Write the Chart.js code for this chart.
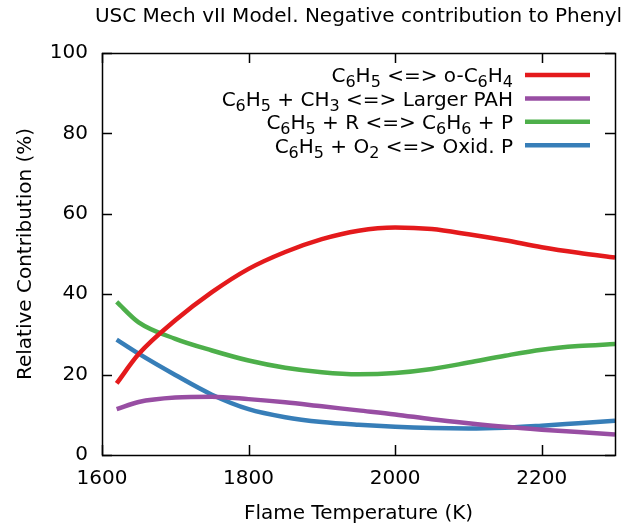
<!DOCTYPE html>
<html>
<head>
<meta charset="utf-8">
<title>Phenyl consumption pathways</title>
<script src="https://cdn.jsdelivr.net/npm/chart.js@4.4.1/dist/chart.umd.min.js"></script>
<style>
  html, body { margin: 0; padding: 0; background: #fff; }
  #wrap { width: 627px; height: 526px; }
</style>
</head>
<body>
<div id="wrap"><canvas id="chart"></canvas></div>
<script>
// Flame temperature (K) and relative contribution (%) of each reaction class
const temperatures = [1620, 1650, 1700, 1750, 1800, 1850, 1900, 1950, 2000, 2050, 2100, 2150, 2200, 2250, 2300];
const benzyneValues = [17.8, 25.1, 33.5, 40.5, 46.3, 50.5, 53.7, 55.8, 56.6, 56.2, 54.9, 53.4, 51.7, 50.3, 49.1];
const largerPahValues = [11.4, 13.2, 14.3, 14.5, 13.9, 13.1, 12.1, 11.1, 10.1, 8.9, 7.9, 7.0, 6.3, 5.7, 5.1];
const benzeneValues = [38.1, 33.0, 28.9, 26.0, 23.5, 21.7, 20.6, 20.1, 20.4, 21.4, 23.0, 24.7, 26.2, 27.1, 27.6];
const oxidationValues = [28.7, 25.2, 19.9, 15.0, 11.4, 9.4, 8.2, 7.5, 7.0, 6.7, 6.6, 6.8, 7.3, 7.9, 8.5];

// "_x" marks a single subscript character
const seriesLabels = [
  'C_6H_5 <=> o-C_6H_4',
  'C_6H_5 + CH_3 <=> Larger PAH',
  'C_6H_5 + R <=> C_6H_6 + P',
  'C_6H_5 + O_2 <=> Oxid. P'
];
const seriesColors = ['#e41a1c', '#984ea3', '#4daf4a', '#377eb8'];
const xTicks = [1600, 1800, 2000, 2200];
const yTicks = [0, 20, 40, 60, 80, 100];

const chartTitle = 'USC Mech vII Model. Negative contribution to Phenyl';
const FONT = '"DejaVu Sans", sans-serif';

function toPoints(values) {
  return values.map((v, i) => ({ x: temperatures[i], y: v }));
}

// Split a label into plain / subscript runs
function parseRuns(label) {
  const runs = [];
  let buf = '';
  for (let i = 0; i < label.length; i++) {
    if (label[i] === '_' && i + 1 < label.length) {
      if (buf) runs.push({ text: buf, sub: false });
      buf = '';
      runs.push({ text: label[i + 1], sub: true });
      i++;
    } else {
      buf += label[i];
    }
  }
  if (buf) runs.push({ text: buf, sub: false });
  return runs;
}

// Title centred over the plot box (not the whole canvas)
const boxTitle = {
  id: 'boxTitle',
  afterDraw(chart) {
    const { ctx, chartArea: a } = chart;
    ctx.save();
    ctx.fillStyle = '#000';
    ctx.font = '20px ' + FONT;
    ctx.textAlign = 'center';
    ctx.textBaseline = 'middle';
    ctx.fillText(chartTitle, (a.left + a.right) / 2, 17);
    ctx.restore();
  }
};

// Closed frame with inward tick marks on all four sides
const frameTicks = {
  id: 'frameTicks',
  afterDatasetsDraw(chart) {
    const { ctx, chartArea: a, scales } = chart;
    const len = 10;
    ctx.save();
    ctx.strokeStyle = '#000';
    ctx.lineWidth = 1.5;
    ctx.beginPath();
    xTicks.forEach(t => {
      const px = Math.round(scales.x.getPixelForValue(t)) + 0.5;
      ctx.moveTo(px, a.bottom); ctx.lineTo(px, a.bottom - len);
      ctx.moveTo(px, a.top); ctx.lineTo(px, a.top + len);
    });
    yTicks.forEach(t => {
      const py = Math.round(scales.y.getPixelForValue(t)) + 0.5;
      ctx.moveTo(a.left, py); ctx.lineTo(a.left + len, py);
      ctx.moveTo(a.right, py); ctx.lineTo(a.right - len, py);
    });
    ctx.stroke();
    ctx.strokeRect(Math.round(a.left) + 0.5, Math.round(a.top) + 0.5,
      Math.round(a.right - a.left), Math.round(a.bottom - a.top));
    ctx.restore();
  }
};

// Legend in the top right corner: right-aligned text, line sample after it
const keyLegend = {
  id: 'keyLegend',
  afterDatasetsDraw(chart) {
    const { ctx, chartArea: a } = chart;
    const size = 20, subSize = 16, subShift = 5;
    const sampleEnd = a.right - 25, sampleStart = sampleEnd - 65, textEnd = sampleStart - 12;
    ctx.save();
    ctx.fillStyle = '#000';
    ctx.textBaseline = 'alphabetic';
    ctx.textAlign = 'left';
    chart.data.datasets.forEach((ds, i) => {
      const y = a.top + 22 + i * 23.4;
      const runs = parseRuns(seriesLabels[i]);
      let width = 0;
      runs.forEach(r => {
        ctx.font = (r.sub ? subSize : size) + 'px ' + FONT;
        r.w = ctx.measureText(r.text).width;
        width += r.w;
      });
      let x = textEnd - width;
      const base = y + 7.3;
      runs.forEach(r => {
        ctx.font = (r.sub ? subSize : size) + 'px ' + FONT;
        ctx.fillText(r.text, x, r.sub ? base + subShift : base);
        x += r.w;
      });
      ctx.strokeStyle = ds.borderColor;
      ctx.lineWidth = 4.5;
      ctx.beginPath();
      ctx.moveTo(sampleStart, y);
      ctx.lineTo(sampleEnd, y);
      ctx.stroke();
    });
    ctx.restore();
  }
};

const datasets = [benzyneValues, largerPahValues, benzeneValues, oxidationValues].map((values, i) => ({
  label: seriesLabels[i],
  data: toPoints(values),
  borderColor: seriesColors[i],
  backgroundColor: seriesColors[i],
  borderWidth: 4.5,
  pointRadius: 0,
  cubicInterpolationMode: 'monotone',
  fill: false
}));

new Chart(document.getElementById('chart'), {
  type: 'line',
  data: { datasets },
  options: {
    responsive: true,
    maintainAspectRatio: false,
    animation: false,
    layout: { padding: { top: 53, right: 12, bottom: 0, left: 0 } },
    plugins: {
      legend: { display: false },
      tooltip: { enabled: false },
      title: { display: false }
    },
    scales: {
      x: {
        type: 'linear',
        min: 1600,
        max: 2300,
        afterBuildTicks: scale => { scale.ticks = xTicks.map(v => ({ value: v })); },
        afterFit: scale => { scale.height = 71; },
        grid: { display: false, drawTicks: false },
        border: { display: false },
        ticks: {
          color: '#000',
          padding: 12,
          maxRotation: 0,
          font: { family: FONT, size: 20 },
          callback: value => String(value)
        },
        title: {
          display: true,
          text: 'Flame Temperature (K)',
          color: '#000',
          font: { family: FONT, size: 20 },
          padding: { top: 0, bottom: 0 }
        }
      },
      y: {
        min: 0,
        max: 100,
        afterBuildTicks: scale => { scale.ticks = yTicks.map(v => ({ value: v })); },
        afterFit: scale => { scale.width = 102; },
        grid: { display: false, drawTicks: false },
        border: { display: false },
        ticks: { color: '#000', padding: 14, font: { family: FONT, size: 20 } },
        title: {
          display: true,
          text: 'Relative Contribution (%)',
          color: '#000',
          font: { family: FONT, size: 20 },
          padding: { top: 14, bottom: 0 }
        }
      }
    }
  },
  plugins: [frameTicks, keyLegend, boxTitle]
});
</script>
</body>
</html>
